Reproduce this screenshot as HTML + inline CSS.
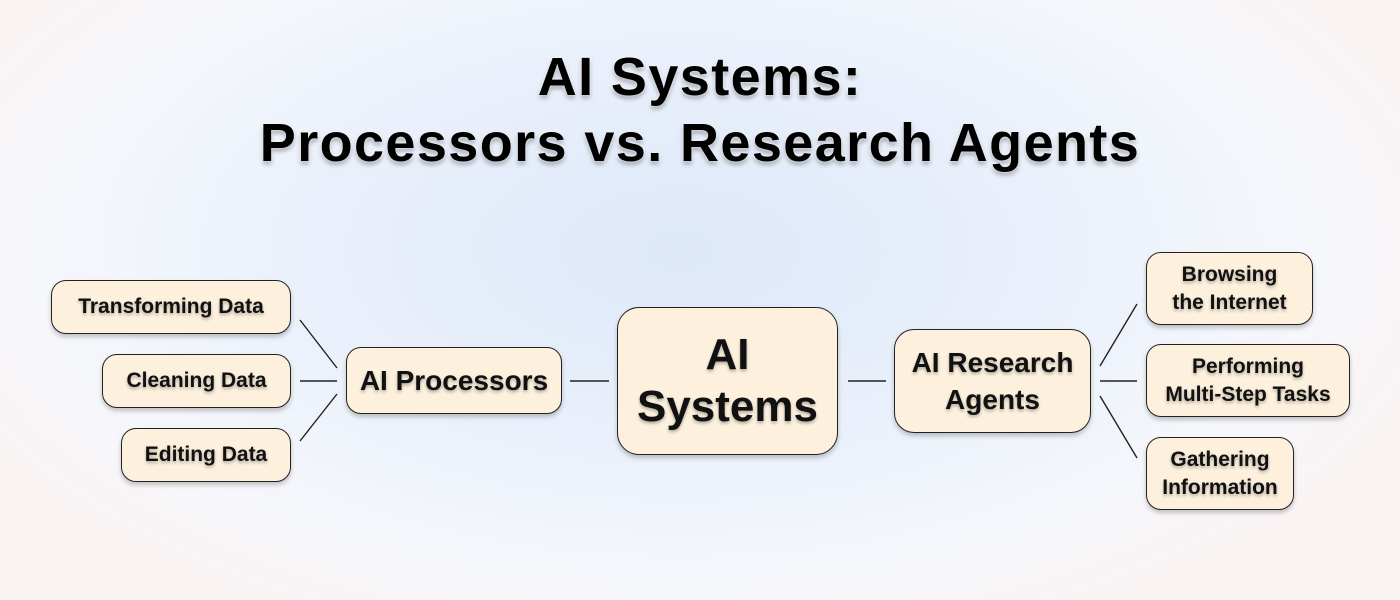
<!DOCTYPE html>
<html><head><meta charset="utf-8"><style>
html,body{margin:0;padding:0}
body{width:1400px;height:600px;position:relative;overflow:hidden;font-family:"Liberation Sans",Arial,sans-serif;
background:radial-gradient(ellipse 800px 420px at 680px 250px,#dde8f9 0%,#ebf1fb 50%,#f6f7fb 80%,#faf3f3 100%);}
.t{position:absolute;left:0;width:1400px;text-align:center;font-weight:bold;font-size:54px;color:#000;letter-spacing:1.4px;
text-shadow:0 0 3px #fff,0 3px 5px rgba(0,0,0,.35)}
.b{position:absolute;box-sizing:border-box;background:#fdf1de;border:1.6px solid #222;border-radius:15px;
display:flex;align-items:center;justify-content:center;text-align:center;font-weight:bold;color:#111;
box-shadow:0 3px 5px rgba(0,0,0,.22);text-shadow:0 2px 3px rgba(0,0,0,.3)}
.s{font-size:21px;line-height:28px}
svg{position:absolute;left:0;top:0}
</style></head><body>
<div class="t" style="top:46px">AI Systems:</div>
<div class="t" style="top:112px">Processors vs. Research Agents</div>
<svg width="1400" height="600"><g stroke="#222" stroke-width="1.4">
<line x1="300" y1="320" x2="337" y2="368"/><line x1="300" y1="381" x2="337" y2="381"/><line x1="300" y1="441" x2="337" y2="394"/>
<line x1="570" y1="381" x2="609" y2="381"/><line x1="848" y1="381" x2="886" y2="381"/>
<line x1="1100" y1="366" x2="1137" y2="304"/><line x1="1100" y1="381" x2="1137" y2="381"/><line x1="1100" y1="396" x2="1137" y2="458"/>
</g></svg>
<div class="b s" style="left:51px;top:280px;width:240px;height:54px">Transforming Data</div>
<div class="b s" style="left:102px;top:354px;width:189px;height:54px">Cleaning Data</div>
<div class="b s" style="left:121px;top:428px;width:170px;height:54px">Editing Data</div>
<div class="b" style="left:346px;top:347px;width:216px;height:67px;font-size:28px">AI Processors</div>
<div class="b" style="left:617px;top:307px;width:221px;height:148px;font-size:44px;line-height:52px;border-radius:22px">AI<br>Systems</div>
<div class="b" style="left:894px;top:329px;width:197px;height:104px;font-size:28px;line-height:37px;border-radius:20px">AI Research<br>Agents</div>
<div class="b s" style="left:1146px;top:252px;width:167px;height:73px">Browsing<br>the Internet</div>
<div class="b s" style="left:1146px;top:344px;width:204px;height:73px">Performing<br>Multi-Step Tasks</div>
<div class="b s" style="left:1146px;top:437px;width:148px;height:73px">Gathering<br>Information</div>
</body></html>
